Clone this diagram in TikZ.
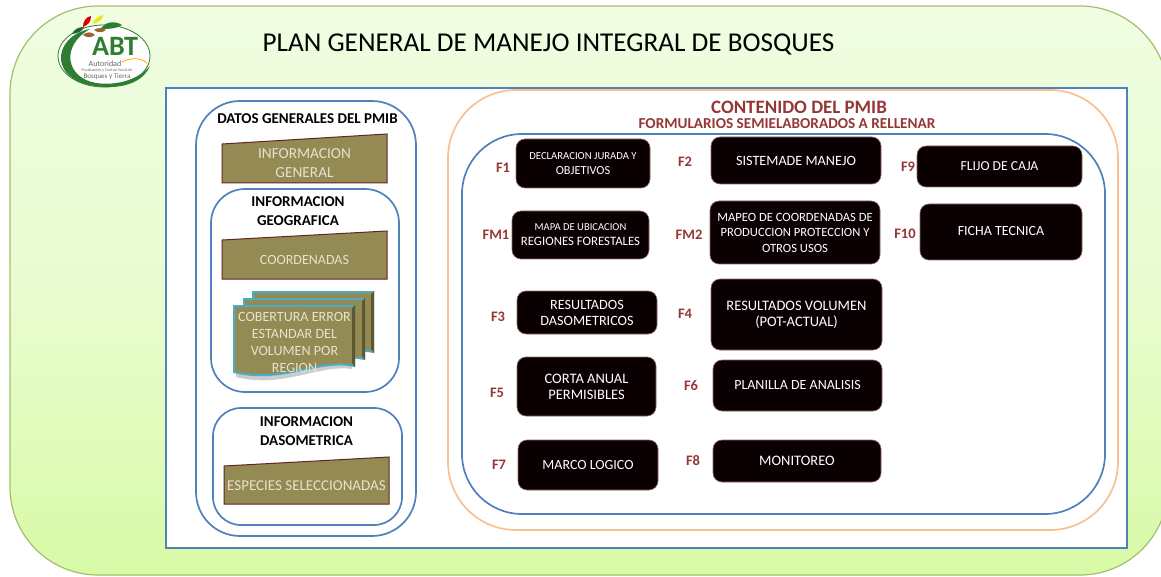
\documentclass[tikz,border=0pt]{standalone}
\usepackage{fontspec}
\setmainfont{Carlito}
\definecolor{bgTop}{HTML}{F0FDE2}
\definecolor{bgBot}{HTML}{D8FAA6}
\definecolor{bgLine}{HTML}{A3BF6C}
\definecolor{frameBlue}{HTML}{4F81BD}
\definecolor{peach}{HTML}{FAC090}
\definecolor{olive}{HTML}{948A54}
\definecolor{oliveDark}{HTML}{5E5830}
\definecolor{maroon}{HTML}{632523}
\definecolor{redTitle}{HTML}{953735}
\definecolor{nearBlack}{HTML}{0A0002}
\definecolor{paleTxt}{HTML}{E6E2CE}
\definecolor{docCyan}{HTML}{4BACC6}
\definecolor{abtGreen}{HTML}{2E7D32}
\newcommand{\pxbox}[7]{\node[#2,minimum width={(#5-#3)*1pt},minimum height={(#6-#4)*1pt}] (#1) at ({(#3+#5)/2},{(#4+#6)/2}) {#7};}
\newcommand{\slant}[8]{% name x0 x1 ytopleft ytopright ybottom fontsize text
  \path[trap] (#2,#4) -- (#3,#5) -- (#3,#6) -- (#2,#6) -- cycle;
  \node[trapTxt,font=\fontsize{#7}{19}\selectfont] (#1) at ({(#2+#3)/2},{(#5+#6)/2+5}) {#8};}
\newcommand{\docsheet}[2]{%
  \path[sheet,shift={(#1,#2)}] (234,306) -- (354,306) -- (354,366) .. controls (320,358) and (282,384) .. (234,372) -- cycle;
  \fill[oliveDark,shift={(#1,#2)}] (352,308) -- (355,305) -- (355,367) -- (352,363) -- cycle;}
\tikzset{
  sz/.style={font=\fontsize{#1}{16}\selectfont},
  panel/.style={draw=frameBlue,line width=1.7pt,fill=white,inner sep=0pt,outer sep=0pt},
  blackbox/.style={draw=maroon!70,line width=0.6pt,fill=nearBlack,text=white,rounded corners=9pt,inner sep=0pt,outer sep=0pt,align=center},
  trap/.style={draw=maroon,line width=1pt,fill=olive},
  trapTxt/.style={text=paleTxt,align=center,inner sep=0pt},
  headTxt/.style={text=black,align=center,inner sep=0pt,font=\bfseries\fontsize{15}{19}\selectfont},
  formTag/.style={text=redTitle,inner sep=0pt,font=\bfseries\fontsize{14.5}{15}\selectfont},
  sheet/.style={draw=docCyan,line width=2pt,fill=olive},
  tiny/.style={text=gray!80!black,inner sep=0pt}
}
\begin{document}
\begin{tikzpicture}[x=1pt,y=-1pt]
\useasboundingbox (0,0) rectangle (1161,577);
\fill[white] (0,0) rectangle (1161,577);
\begin{scope}
\clip (0,0) rectangle (1161,577);
\pxbox{bg}{draw=bgLine,line width=1.2pt,top color=bgTop,bottom color=bgBot,middle color=bgTop!70!bgBot,rounded corners=88pt,inner sep=0pt}{10}{6}{1168}{575}{}
\end{scope}
% logo
\fill[white,draw=abtGreen,line width=0.8pt] (104,56) ellipse (46pt and 31pt);
\fill[abtGreen] (90,29) .. controls (52,36) and (46,84) .. (104,87) .. controls (128,88) and (144,80) .. (150,66) .. controls (138,80) and (116,86) .. (96,83) .. controls (66,78) and (60,46) .. (90,29) -- cycle;
\fill[abtGreen] (100,30) .. controls (104,22) and (114,20) .. (122,25) .. controls (114,30) and (106,28) .. (100,30) -- cycle;
\fill[abtGreen!80!black] (72,34) .. controls (74,29) and (79,27) .. (84,27) .. controls (82,32) and (78,33) .. (72,34) -- cycle;
\fill[red!85!black] (83,27) .. controls (83,21) and (86,17) .. (91,16) .. controls (91,22) and (88,25) .. (83,27) -- cycle;
\fill[yellow!85!olive] (93,24) .. controls (94,19) and (98,16) .. (103,15) .. controls (103,20) and (99,22) .. (93,24) -- cycle;
\fill[brown!80!black] (83,35) .. controls (87,31) and (92,32) .. (95,35) .. controls (91,38) and (87,38) .. (83,35) -- cycle;
\fill[brown!80!black] (94,30) .. controls (98,27) and (103,28) .. (106,30) .. controls (102,33) and (98,33) .. (94,30) -- cycle;
\draw[orange!70!yellow,line width=0.8pt] (122,62) .. controls (130,58) and (140,57) .. (147,63);
\node[text=abtGreen,font=\bfseries\fontsize{28}{28}\selectfont,inner sep=0pt] (abt) at (115,46) {ABT};
\node[tiny,font=\fontsize{8}{9}\selectfont] (auto) at (105,64) {Autoridad};
\node[tiny,font=\fontsize{4}{5}\selectfont] (fisc) at (107,70) {Fiscalización y Control Social de};
\node[tiny,font=\fontsize{7}{8}\selectfont] (bosq) at (107,76.5) {Bosques y Tierra};
% title
\node[text=black,font=\fontsize{27.2}{30}\selectfont,inner sep=0pt] (title) at (548.5,44) {PLAN GENERAL DE MANEJO INTEGRAL DE BOSQUES};
% frame
\pxbox{frame}{panel}{166}{88}{1127}{548}{}
% left panel
\pxbox{left}{panel,rounded corners=44pt}{196}{101}{416}{536}{}
\node[headTxt] (datos) at (307.5,119) {DATOS GENERALES DEL PMIB};
\slant{info}{222}{387}{144}{134}{183}{15.3}{INFORMACION\\GENERAL}
\pxbox{geo}{panel,rounded corners=34pt}{211}{189}{399}{392}{}
\node[headTxt] (geot) at (298,211) {INFORMACION\\GEOGRAFICA};
\slant{coord}{222}{387}{240}{231}{279}{14}{COORDENADAS}
\path[fill=black,fill opacity=0.2] (236,312) -- (352,312) -- (352,369) .. controls (320,364) and (282,389) .. (236,377) -- cycle;
\docsheet{19}{-14}
\docsheet{10}{-7}
\docsheet{0}{0}
\node[trapTxt,font=\fontsize{14.1}{17}\selectfont] (cob) at (294.5,342) {COBERTURA ERROR\\ESTANDAR DEL\\VOLUMEN POR\\REGION};
\pxbox{das}{panel,rounded corners=28pt}{213}{408}{402}{525}{}
\node[headTxt] (dast) at (306.5,431) {INFORMACION\\DASOMETRICA};
\slant{esp}{224}{389}{466}{457}{504}{15}{ESPECIES SELECCIONADAS}
% right panel
\pxbox{orange}{draw=peach,line width=1.7pt,fill=white,rounded corners=68pt,inner sep=0pt}{448}{90}{1118}{530}{}
\node[text=redTitle,font=\bfseries\fontsize{18.9}{20}\selectfont,inner sep=0pt] (cont) at (799,107) {CONTENIDO DEL PMIB};
\node[text=redTitle,font=\bfseries\fontsize{15.2}{16}\selectfont,inner sep=0pt] (form) at (787,124) {FORMULARIOS  SEMIELABORADOS A RELLENAR};
\pxbox{inner}{panel,rounded corners=60pt}{462}{134}{1105}{514}{}
% form boxes
\pxbox{bF1}{blackbox,font=\fontsize{10.7}{15}\selectfont}{516}{139}{650}{188}{DECLARACION JURADA Y\\\fontsize{12.3}{14}\selectfont OBJETIVOS}
\pxbox{bF2}{blackbox,sz=14.2}{711}{137}{881}{184}{SISTEMADE MANEJO}
\pxbox{bF9}{blackbox,sz=13.7}{917}{146}{1082}{187}{FLIJO DE CAJA}
\pxbox{bFM1}{blackbox,font=\fontsize{10.6}{15}\selectfont}{512}{211}{649}{259}{MAPA DE UBICACION\\\fontsize{12.8}{14}\selectfont REGIONES FORESTALES}
\pxbox{bFM2}{blackbox,font=\fontsize{12.6}{15.5}\selectfont}{710}{201}{880}{264}{MAPEO DE COORDENADAS DE\\PRODUCCION PROTECCION Y\\OTROS USOS}
\pxbox{bF10}{blackbox}{920}{204}{1082}{260}{\raisebox{2pt}{\fontsize{14}{16}\selectfont FICHA TECNICA}}
\pxbox{bF3}{blackbox,font=\fontsize{14.2}{16}\selectfont}{517}{291}{657}{334}{RESULTADOS\\DASOMETRICOS}
\pxbox{bF4}{blackbox,font=\fontsize{14.5}{16}\selectfont}{711}{279}{882}{350}{RESULTADOS VOLUMEN\\(POT-ACTUAL)}
\pxbox{bF5}{blackbox,font=\fontsize{14.5}{16}\selectfont}{517}{357}{656}{416}{CORTA ANUAL\\PERMISIBLES}
\pxbox{bF6}{blackbox,sz=14}{713}{360}{882}{411}{PLANILLA DE ANALISIS}
\pxbox{bF7}{blackbox,sz=14}{518}{440}{658}{490}{MARCO LOGICO}
\pxbox{bF8}{blackbox,sz=14.5}{713}{440}{881}{482}{MONITOREO}
% tags
\node[formTag] (tF1) at (503,168) {F1};
\node[formTag] (tF2) at (685,162) {F2};
\node[formTag] (tF9) at (908,167) {F9};
\node[formTag] (tFM1) at (496,235) {FM1};
\node[formTag] (tFM2) at (689,235) {FM2};
\node[formTag] (tF10) at (905,234) {F10};
\node[formTag] (tF3) at (498,317) {F3};
\node[formTag] (tF4) at (685,314) {F4};
\node[formTag] (tF5) at (497,393) {F5};
\node[formTag] (tF6) at (691,386) {F6};
\node[formTag] (tF7) at (499,465) {F7};
\node[formTag] (tF8) at (693,461) {F8};
\end{tikzpicture}
\end{document}
